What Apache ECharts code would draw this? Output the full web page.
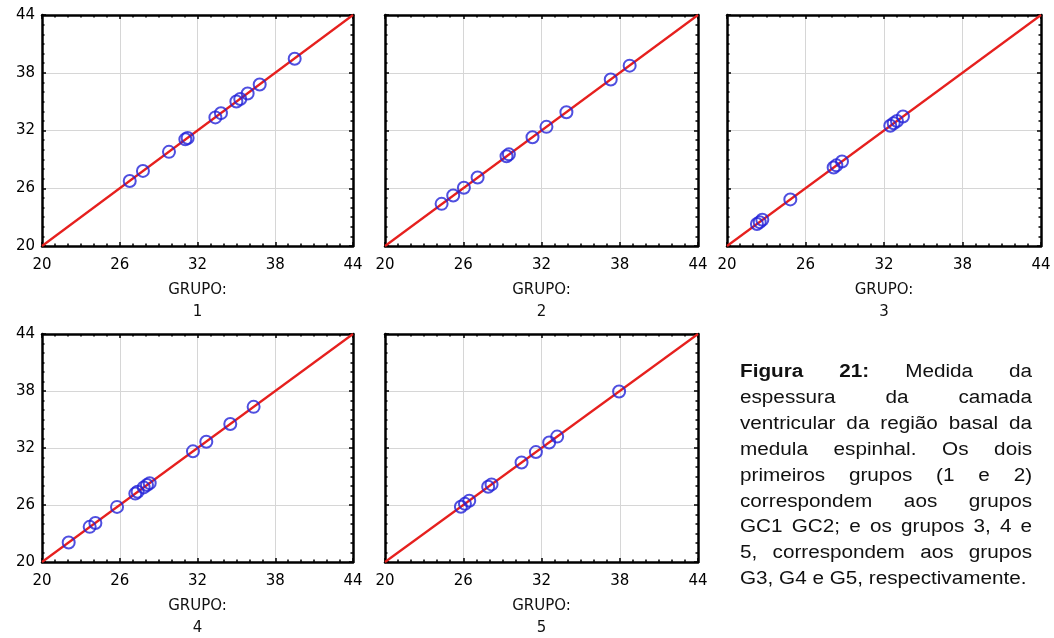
<!DOCTYPE html>
<html>
<head>
<meta charset="utf-8">
<script src="https://cdn.jsdelivr.net/npm/echarts@6/dist/echarts.min.js"></script>
<style>
  html, body { margin: 0; padding: 0; background: #fff; }
  #wrap { position: relative; width: 1054px; height: 638px; }
  #chart { position: absolute; left: 0; top: 0; width: 1054px; height: 638px; }
  #cap {
    position: absolute; left: 740px; top: 359px; width: 254px;
    font-family: "Liberation Sans", Arial, sans-serif; font-size: 18px; line-height: 25.9px;
    color: #111; transform: scaleX(1.15); transform-origin: left top;
  }
  #cap div { text-align: justify; text-align-last: justify; white-space: nowrap; }
  #cap div.last { text-align: left; text-align-last: left; }
</style>
</head>
<body>
<div id="wrap">
  <div id="chart"></div>
  <div id="cap">
    <div><b>Figura 21:</b> Medida da</div>
    <div>espessura da camada</div>
    <div>ventricular da região basal da</div>
    <div>medula espinhal. Os dois</div>
    <div>primeiros grupos (1 e 2)</div>
    <div>correspondem aos grupos</div>
    <div>GC1 GC2; e os grupos 3, 4 e</div>
    <div>5, correspondem aos grupos</div>
    <div class="last">G3, G4 e G5, respectivamente.</div>
  </div>
</div>
<script>
// ---- data ----
const axisMin = 20;
const axisMax = 44;
const tickStep = 6;          // ticks 20, 26, 32, 38, 44
const groupNames = ['1', '2', '3', '4', '5'];
const diagLine = [20, 44];   // identity reference line endpoints

const g1x = [26.77, 27.79, 29.80, 31.06, 31.24, 33.38, 33.81, 35.00, 35.30, 35.87, 36.80, 39.50];
const g1y = [26.75, 27.80, 29.78, 31.08, 31.22, 33.36, 33.80, 35.02, 35.28, 35.85, 36.78, 39.45];

const g2x = [24.34, 25.23, 26.05, 27.10, 29.32, 29.50, 31.31, 32.38, 33.91, 37.31, 38.76];
const g2y = [24.38, 25.25, 26.05, 27.12, 29.32, 29.52, 31.30, 32.38, 33.90, 37.30, 38.74];

const g3x = [22.29, 22.50, 22.70, 24.84, 28.15, 28.36, 28.79, 32.48, 32.74, 32.99, 33.45];
const g3y = [22.28, 22.48, 22.72, 24.84, 28.15, 28.38, 28.78, 32.50, 32.75, 32.99, 33.45];

const g4x = [22.06, 23.68, 24.12, 25.79, 27.20, 27.38, 27.85, 28.10, 28.31, 31.65, 32.68, 34.53, 36.33];
const g4y = [22.05, 23.70, 24.10, 25.80, 27.20, 27.40, 27.85, 28.10, 28.30, 31.65, 32.66, 34.52, 36.33];

const g5x = [25.82, 26.13, 26.46, 27.91, 28.17, 30.47, 31.57, 32.59, 33.20, 37.95];
const g5y = [25.82, 26.12, 26.45, 27.92, 28.17, 30.48, 31.57, 32.58, 33.20, 37.94];

const groupsX = [g1x, g2x, g3x, g4x, g5x];
const groupsY = [g1y, g2y, g3y, g4y, g5y];

// ---- layout ----
const grids = [
  { left: 42,  top: 15,  width: 311, height: 231 },
  { left: 385, top: 15,  width: 313, height: 231 },
  { left: 727, top: 15,  width: 314, height: 231 },
  { left: 42,  top: 334, width: 311, height: 228 },
  { left: 385, top: 334, width: 313, height: 228 }
];
const showYLabels = [true, false, false, true, false];

const tickFont = { fontFamily: 'DejaVu Sans', fontSize: 15, color: '#000' };
const borderLine = { show: true, onZero: false, lineStyle: { color: '#000', width: 2.5 } };

const gridOpts = [], xAxes = [], yAxes = [], series = [];
grids.forEach((g, i) => {
  gridOpts.push(Object.assign({
    show: true, borderColor: '#000', borderWidth: 0, backgroundColor: '#fff',
    containLabel: false, outerBoundsMode: 'none'
  }, g));
  const base = {
    type: 'value', gridIndex: i, min: axisMin, max: axisMax, interval: tickStep,
    axisLine: borderLine,
    axisTick: { show: true, inside: true, length: 4, lineStyle: { color: '#000', width: 1.5 } },
    minorTick: { show: true, splitNumber: 6, length: 2.5, lineStyle: { color: '#000', width: 1.5 } },
    minorSplitLine: { show: false }
  };
  xAxes.push(Object.assign({}, base, {
    position: 'bottom',
    axisLabel: Object.assign({ show: true, margin: 12, showMinLabel: true, showMaxLabel: true, hideOverlap: false }, tickFont),
    splitLine: { show: true, lineStyle: { color: '#d6d6d6', width: 1 } },
    name: 'GRUPO:\n' + groupNames[i], nameLocation: 'middle', nameGap: 33,
    nameTextStyle: { fontFamily: 'DejaVu Sans', fontSize: 15, color: '#111', lineHeight: 22 }
  }));
  xAxes.push(Object.assign({}, base, {
    position: 'top', axisLabel: { show: false }, splitLine: { show: false }
  }));
  yAxes.push(Object.assign({}, base, {
    position: 'left',
    axisLabel: Object.assign({ show: showYLabels[i], margin: 7, showMinLabel: true, showMaxLabel: true, hideOverlap: false }, tickFont),
    splitLine: { show: true, lineStyle: { color: '#d6d6d6', width: 1 } }
  }));
  yAxes.push(Object.assign({}, base, {
    position: 'right', axisLabel: { show: false }, splitLine: { show: false }
  }));
  series.push({
    type: 'line', xAxisIndex: 2 * i, yAxisIndex: 2 * i,
    data: [[diagLine[0], diagLine[0]], [diagLine[1], diagLine[1]]],
    symbol: 'none', silent: true, animation: false, z: 2,
    lineStyle: { color: '#e6201e', width: 2.2 }
  });
  series.push({
    type: 'scatter', xAxisIndex: 2 * i, yAxisIndex: 2 * i,
    data: groupsX[i].map((v, k) => [v, groupsY[i][k]]),
    symbol: 'circle', symbolSize: 12, animation: false, z: 3,
    itemStyle: { color: 'rgba(0,0,0,0)', borderColor: '#2323d8', borderWidth: 2 }
  });
});

const chart = echarts.init(document.getElementById('chart'), null, { renderer: 'canvas' });
chart.setOption({
  backgroundColor: '#fff',
  animation: false,
  grid: gridOpts,
  xAxis: xAxes,
  yAxis: yAxes,
  series: series
});
</script>
</body>
</html>
